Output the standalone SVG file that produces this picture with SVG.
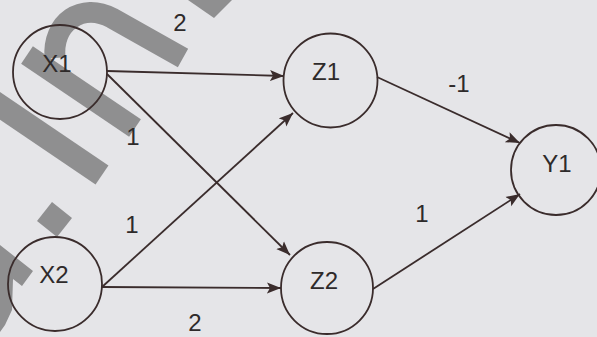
<svg xmlns="http://www.w3.org/2000/svg" width="597" height="337" viewBox="0 0 597 337">
<defs>
<style>
.bg{fill:#e5e5e8}
.wm{fill:none;stroke:#8f8f90;stroke-linecap:butt}
.wmf{fill:#8f8f90}
.node circle{fill:none;stroke:#3a2c2c;stroke-width:1.8}
.lbl{font-family:"Liberation Sans",Arial,sans-serif;font-size:24px;fill:#2e2a2a;text-anchor:middle}
.edge{stroke:#3a2c2c;stroke-width:1.8;fill:none;marker-end:url(#ah)}
</style>
<marker id="ah" markerUnits="userSpaceOnUse" markerWidth="16" markerHeight="12" refX="14" refY="6" orient="auto">
<path d="M0,0.5 L14,6 L0,11.5 L3,6 z" fill="#3a2c2c"/>
</marker>
</defs>
<rect class="bg" x="0" y="0" width="597" height="337"/>
<g id="watermark">
<path class="wm" stroke-width="21" d="M55 58 C52 22 82 2 112 18 L183 58"/>
<polygon class="wmf" points="188,0 232,0 214,18"/>
<path class="wm" stroke-width="21" d="M27 55 L135 128"/>
<path class="wm" stroke-width="23" d="M-10 99 L102 175"/>
<polygon class="wmf" points="52,202 72,218 57,237 37,221"/>
<polygon class="wmf" points="0,245 33,271 22,286 13,279 12,310 5,325 0,332"/>
</g>
<g id="connectors">
<line class="edge" x1="107" y1="71" x2="284" y2="76"/>
<line class="edge" x1="107" y1="74" x2="290" y2="255"/>
<line class="edge" x1="102" y1="287" x2="293" y2="113"/>
<line class="edge" x1="102" y1="287" x2="281" y2="288"/>
<line class="edge" x1="377" y1="77" x2="520" y2="143"/>
<line class="edge" x1="373" y1="289" x2="520" y2="194"/>
<text class="lbl" x="180" y="31">2</text>
<text class="lbl" x="133" y="145">1</text>
<text class="lbl" x="132" y="233">1</text>
<text class="lbl" x="195" y="331">2</text>
<text class="lbl" x="459" y="92">-1</text>
<text class="lbl" x="422" y="222">1</text>
</g>
<g id="X1" class="node"><circle cx="60" cy="72" r="47"/><text class="lbl" x="57" y="72">X1</text></g>
<g id="X2" class="node"><circle cx="55" cy="284" r="47"/><text class="lbl" x="54" y="283">X2</text></g>
<g id="Z1" class="node"><circle cx="330.5" cy="80.5" r="47"/><text class="lbl" x="326" y="80">Z1</text></g>
<g id="Z2" class="node"><circle cx="327" cy="288" r="46"/><text class="lbl" x="324" y="289">Z2</text></g>
<g id="Y1" class="node"><circle cx="556" cy="170" r="45"/><text class="lbl" x="557" y="172">Y1</text></g>
</svg>
